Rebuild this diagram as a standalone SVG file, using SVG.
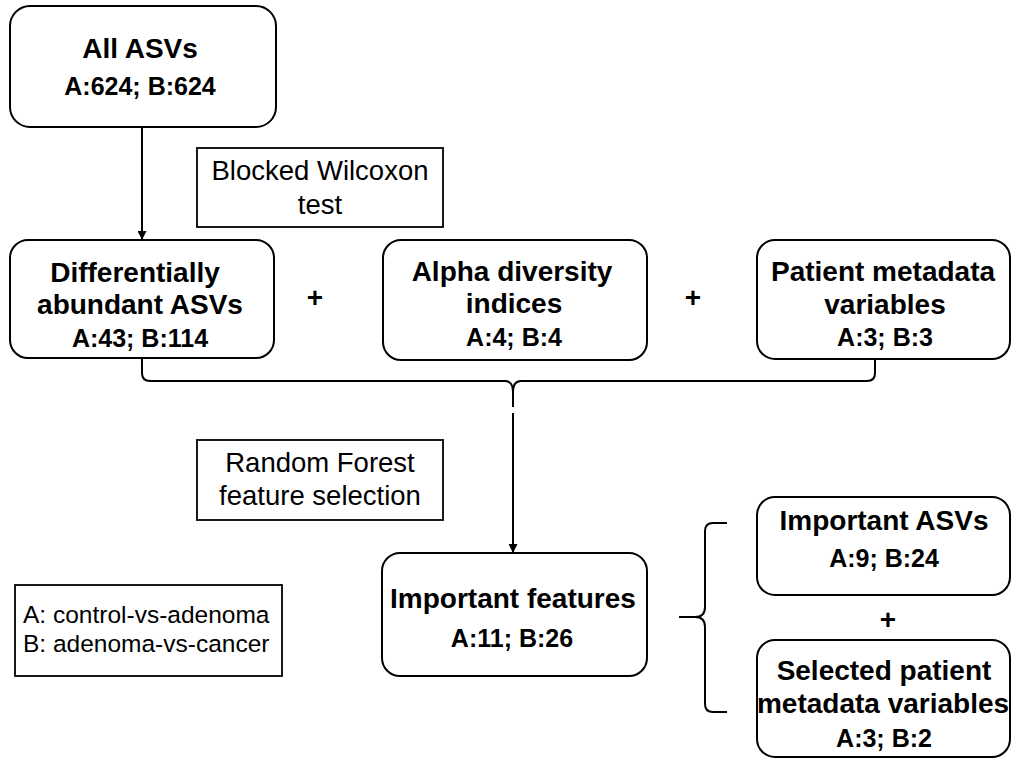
<svg xmlns="http://www.w3.org/2000/svg" width="1012" height="760" viewBox="0 0 1012 760">
<style>
.box{fill:#fff;stroke:#000;stroke-width:2}
.lbl{fill:#fff;stroke:#000;stroke-width:1.8}
.t{font-family:"Liberation Sans",Arial,sans-serif;font-weight:bold;font-size:28px;fill:#000;text-anchor:middle}
.n{font-family:"Liberation Sans",Arial,sans-serif;font-weight:bold;font-size:25px;fill:#000;text-anchor:middle}
.r{font-family:"Liberation Sans",Arial,sans-serif;font-size:27.5px;fill:#000;text-anchor:middle}
.lg{font-family:"Liberation Sans",Arial,sans-serif;font-size:24.5px;fill:#000}
.ln{fill:none;stroke:#000;stroke-width:2}
</style>
<defs>
<marker id="ah" viewBox="0 0 10 10" refX="10" refY="5" markerWidth="10" markerHeight="9" markerUnits="userSpaceOnUse" orient="auto">
<path d="M0,0 L10,5 L0,10 z" fill="#000"/>
</marker>
</defs>
<g id="connectors">
<line class="ln" x1="142" y1="127" x2="142" y2="240" marker-end="url(#ah)"/>
<path class="ln" d="M142,359 V373 Q142,381 150,381 H505 Q513,381 513,392 V407 M513,392 Q513,381 521,381 H867 Q875,381 875,373 V359"/>
<line class="ln" x1="513" y1="413" x2="513" y2="553" marker-end="url(#ah)"/>
<path class="ln" d="M727,523 H713 Q705,523 705,531 V607 Q705,617 695,617 H679 M695,617 Q705,617 705,627 V704 Q705,712 713,712 H727"/>
</g>
<g id="all-asvs">
<rect class="box" x="10" y="6" width="266" height="121" rx="20"/>
<text class="t" x="140" y="58">All ASVs</text>
<text class="n" x="140" y="95">A:624; B:624</text>
</g>
<g id="wilcoxon">
<rect class="lbl" x="197" y="148" width="246" height="79"/>
<text class="r" x="320" y="180">Blocked Wilcoxon</text>
<text class="r" x="320" y="214">test</text>
</g>
<g id="diff-asvs">
<rect class="box" x="10" y="240" width="264" height="118" rx="18"/>
<text class="t" x="135" y="282">Differentially</text>
<text class="t" x="140" y="314">abundant ASVs</text>
<text class="n" x="140" y="347">A:43; B:114</text>
</g>
<g id="plus1"><text class="t" x="315" y="307">+</text></g>
<g id="alpha">
<rect class="box" x="383" y="240" width="264" height="120" rx="18"/>
<text class="t" x="512" y="281">Alpha diversity</text>
<text class="t" x="514" y="313">indices</text>
<text class="n" x="514" y="346">A:4; B:4</text>
</g>
<g id="plus2"><text class="t" x="693" y="307">+</text></g>
<g id="metadata">
<rect class="box" x="757" y="240" width="253" height="119" rx="18"/>
<text class="t" x="883" y="281">Patient metadata</text>
<text class="t" x="885" y="314">variables</text>
<text class="n" x="885" y="346">A:3; B:3</text>
</g>
<g id="random-forest">
<rect class="lbl" x="197" y="440" width="246" height="80"/>
<text class="r" x="320" y="472">Random Forest</text>
<text class="r" x="320" y="505">feature selection</text>
</g>
<g id="important-features">
<rect class="box" x="382" y="553" width="265" height="123" rx="18"/>
<text class="t" x="513" y="608">Important features</text>
<text class="n" x="512" y="647">A:11; B:26</text>
</g>
<g id="legend">
<rect class="lbl" x="15" y="585" width="267" height="91"/>
<text class="lg" x="23" y="623">A: control-vs-adenoma</text>
<text class="lg" x="23" y="652">B: adenoma-vs-cancer</text>
</g>
<g id="important-asvs">
<rect class="box" x="757" y="497" width="253" height="98" rx="18"/>
<text class="t" x="884" y="530">Important ASVs</text>
<text class="n" x="884" y="567">A:9; B:24</text>
</g>
<g id="plus3"><text class="t" x="888" y="629">+</text></g>
<g id="selected-metadata">
<rect class="box" x="757" y="640" width="253" height="117" rx="18"/>
<text class="t" x="884" y="680">Selected patient</text>
<text class="t" x="883" y="713">metadata variables</text>
<text class="n" x="884" y="747">A:3; B:2</text>
</g>
</svg>
